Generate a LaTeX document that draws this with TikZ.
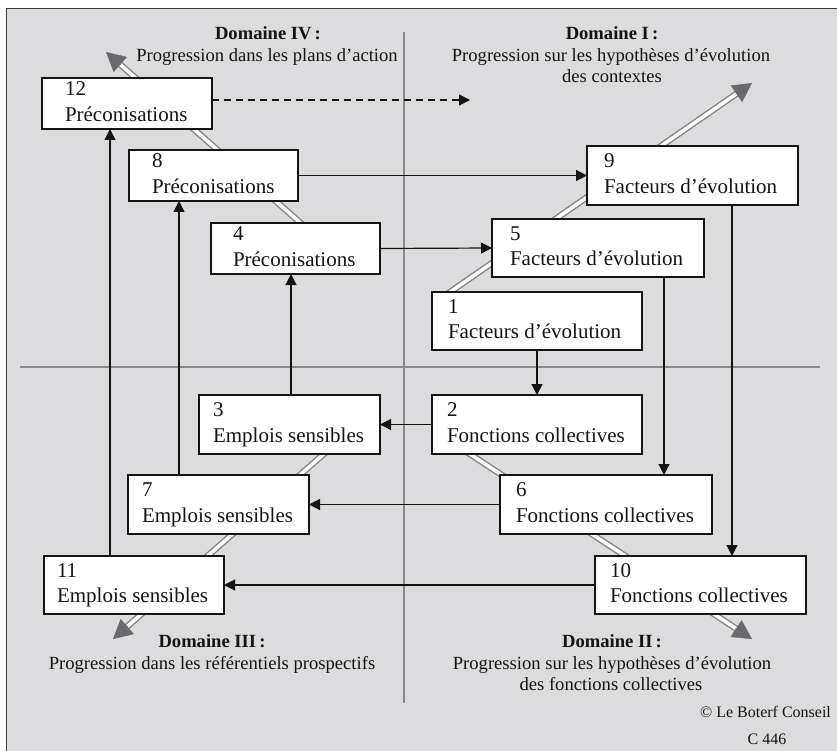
\documentclass[tikz,border=0pt]{standalone}
\usepackage{fontspec}
\setmainfont{Liberation Serif}
\usetikzlibrary{arrows.meta,calc}

\definecolor{panel}{RGB}{220,220,222}
\definecolor{framegray}{RGB}{60,60,60}
\definecolor{axisgray}{RGB}{138,138,140}
\definecolor{bandgray}{RGB}{130,130,132}
\definecolor{headgray}{RGB}{105,105,107}
\definecolor{ink}{RGB}{20,20,20}

% box contents: width, left inset, number, label
\newcommand\stepcell[4]{\makebox[#1pt][l]{\hspace*{#2pt}\begin{tabular}[t]{@{}l@{}}#3\\#4\end{tabular}}}

\begin{document}
\begin{tikzpicture}[x=1pt,y=-1pt,
  stepbox/.style={draw=ink, fill=white, line width=1.2pt, inner sep=0pt, outer sep=0pt,
    anchor=north west, font=\fontsize{21}{25.2}\selectfont, text=ink},
  arr/.style={draw=ink, line width=1.2pt, -{Triangle[length=11pt,width=11pt]}},
  dasharr/.style={arr, dash pattern=on 7pt off 5pt},
  band/.style={draw=bandgray, double=white, line width=1.4pt, double distance=3.6pt},
  bandtip/.style={draw=headgray, fill=headgray, line width=0.4pt, -{Triangle[length=19pt,width=20pt]}},
  axis/.style={draw=axisgray, line width=2.2pt},
  domtitle/.style={font=\fontsize{18.6}{22}\selectfont\bfseries, anchor=base, text=ink, inner sep=0pt},
  domtext/.style={font=\fontsize{18.6}{22}\selectfont, anchor=base, text=ink, inner sep=0pt},
  credit/.style={font=\fontsize{16}{19}\selectfont, anchor=base, text=ink, inner sep=0pt}]

\useasboundingbox (0,0) rectangle (837,751);
\clip (0,0) rectangle (837,751);

% panel
\draw[fill=panel, draw=framegray, line width=1.5pt] (6.5,8.5) rectangle (900,820);

% quadrant axes
\coordinate (vtop) at (404,32);
\coordinate (vbot) at (404,703);
\coordinate (hl) at (20,367);
\coordinate (hr) at (820,367);
\draw[axis] (vtop) -- (vbot);
\draw[axis] (hl) -- (hr);

% progression bands
\coordinate (sI) at (440,299);   \coordinate (tI) at (752,83);
\coordinate (sII) at (450,441);  \coordinate (tII) at (752,639);
\coordinate (sIII) at (350,431); \coordinate (tIII) at (113,639);
\coordinate (sIV) at (320,240);  \coordinate (tIV) at (106,52);
\foreach \s/\t in {sI/tI, sII/tII, sIII/tIII, sIV/tIV}{
  \draw[band] (\s) -- ($(\t)!16pt!(\s)$);
  \draw[bandtip] ($(\t)!20pt!(\s)$) -- (\t);
}

% steps
\node[stepbox, minimum height=51pt] (b12) at (42,78)  {\stepcell{170}{23}{12}{Préconisations}};
\node[stepbox, minimum height=51pt] (b8)  at (129,150) {\stepcell{169}{23}{8}{Préconisations}};
\node[stepbox, minimum height=51pt] (b4)  at (211,223) {\stepcell{169}{22}{4}{Préconisations}};
\node[stepbox, minimum height=59pt] (b9)  at (587,146) {\stepcell{211}{17}{9}{Facteurs d’évolution}};
\node[stepbox, minimum height=58pt] (b5)  at (492,219) {\stepcell{212}{18}{5}{Facteurs d’évolution}};
\node[stepbox, minimum height=58pt] (b1)  at (432,292) {\stepcell{210}{16}{1}{Facteurs d’évolution}};
\node[stepbox, minimum height=59pt] (b2)  at (432,395) {\stepcell{210}{15}{2}{Fonctions collectives}};
\node[stepbox, minimum height=59pt] (b6)  at (500,475) {\stepcell{212}{16}{6}{Fonctions collectives}};
\node[stepbox, minimum height=58pt] (b10) at (595,556) {\stepcell{211}{15}{10}{Fonctions collectives}};
\node[stepbox, minimum height=59pt] (b3)  at (199,395) {\stepcell{181}{14}{3}{Emplois sensibles}};
\node[stepbox, minimum height=59pt] (b7)  at (128,475) {\stepcell{181}{14}{7}{Emplois sensibles}};
\node[stepbox, minimum height=58pt] (b11) at (44,556)  {\stepcell{180}{13}{11}{Emplois sensibles}};

% vertical connector positions
\coordinate (x3) at (291,0);
\coordinate (x7) at (179,0);
\coordinate (x11) at (110,0);
\coordinate (x5) at (664,0);
\coordinate (x9) at (732,0);
\coordinate (dashend) at (470,0);

% connectors
\draw[arr] (b1.south) -- (b2.north);
\draw[arr] (b2.west) -- (b3.east);
\draw[arr] (b6.west) -- (b7.east);
\draw[arr] (b10.west) -- (b11.east);
\draw[arr] (b4.east) -- (b5.west);
\draw[arr] (b8.east) -- (b9.west);
\draw[arr] (b3.north -| x3) -- (b4.south -| x3);
\draw[arr] (b7.north -| x7) -- (b8.south -| x7);
\draw[arr] (b11.north -| x11) -- (b12.south -| x11);
\draw[arr] (b5.south -| x5) -- (b6.north -| x5);
\draw[arr] (b9.south -| x9) -- (b10.north -| x9);
\draw[dasharr] ([yshift=3.5pt]b12.east) coordinate (d0) -- (d0 -| dashend);

% domain captions
\node[domtitle] (d4a) at (268,39.5) {Domaine IV\,:};
\node[domtext]  (d4b) at (267,61.5) {Progression dans les plans d’action};
\node[domtitle] (d1a) at (612,39.5) {Domaine I\,:};
\node[domtext]  (d1b) at (611,61.5) {Progression sur les hypothèses d’évolution};
\node[domtext]  (d1c) at (612,83)   {des contextes};
\node[domtitle] (d3a) at (212,647)  {Domaine III\,:};
\node[domtext]  (d3b) at (212,669)  {Progression dans les référentiels prospectifs};
\node[domtitle] (d2a) at (612,647)  {Domaine II\,:};
\node[domtext]  (d2b) at (612,669)  {Progression sur les hypothèses d’évolution};
\node[domtext]  (d2c) at (611,690)  {des fonctions collectives};

% credit
\node[credit] (c1) at (765.5,717) {© Le Boterf Conseil};
\node[credit] (c2) at (767,744)   {C 446};
\end{tikzpicture}
\end{document}
